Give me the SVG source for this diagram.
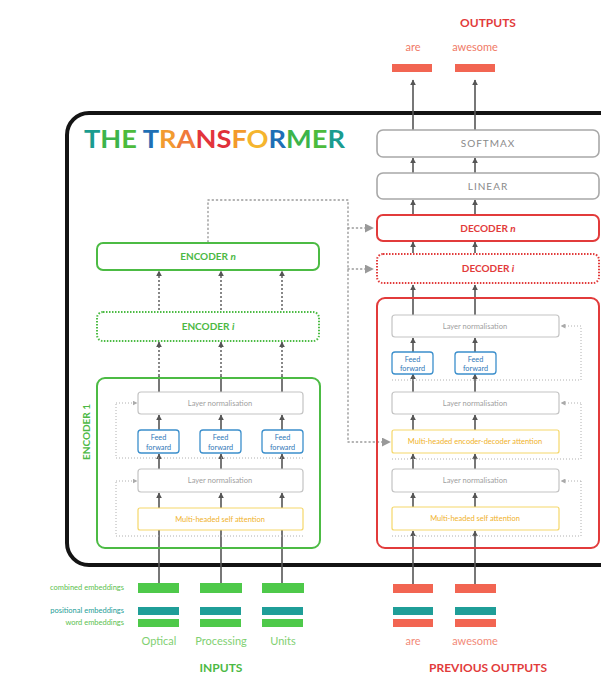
<svg xmlns="http://www.w3.org/2000/svg" width="601" height="675" viewBox="0 0 601 675">
<defs>
<style>
text{font-family:Lato,"Open Sans","Liberation Sans",sans-serif}
.frame{fill:none;stroke:#141414;stroke-width:4}
.gbox{fill:#fff;stroke:#4cbb44;stroke-width:2}
.gdot{fill:#fff;stroke:#4cbb44;stroke-width:2;stroke-dasharray:1.5 1.5}
.rbox{fill:#fff;stroke:#e23b3b;stroke-width:2}
.rdot{fill:#fff;stroke:#e23b3b;stroke-width:2;stroke-dasharray:1.5 1.5}
.grey{fill:#fff;stroke:#a8a8a8;stroke-width:1.6}
.ln{fill:#fff;stroke:#c4c4c4;stroke-width:1.2}
.ff{fill:#fff;stroke:#3b8fcc;stroke-width:1.3}
.att{fill:#fff;stroke:#f5d76a;stroke-width:1.2}
.arr{stroke:#555;stroke-width:1.6;fill:none}
.darr{stroke:#555;stroke-width:1.4;stroke-dasharray:2 2;fill:none}
.dot{stroke:#9a9a9a;stroke-width:1.4;stroke-dasharray:1.2 3;stroke-linecap:round;fill:none}
.dots{stroke:#b0b0b0;stroke-width:1;stroke-dasharray:1 2;fill:none}
.tln{font-size:7.5px;fill:#a0a0a0;text-anchor:middle}
.tff{font-size:7.3px;fill:#2f78b8;text-anchor:middle}
.tat{font-size:7.5px;fill:#f0b22a;text-anchor:middle}
.tg{font-size:10px;font-weight:bold;fill:#4cb944;text-anchor:middle}
.tr{font-size:10px;font-weight:bold;fill:#e23b3b;text-anchor:middle}
.tgy{font-size:10px;fill:#8a8a8a;text-anchor:middle;letter-spacing:1px}
.emb{font-size:7.5px;text-anchor:end}
.word{font-size:11px;text-anchor:middle}
.gem{fill:#4ec94a}
.tem{fill:#1f9e98}
.sem{fill:#f26552}
</style>
<marker id="ah" viewBox="0 0 10 10" refX="9" refY="5" markerWidth="6" markerHeight="6" markerUnits="userSpaceOnUse" orient="auto"><path d="M0,0L10,5L0,10z" fill="#555"/></marker>
<marker id="gh" viewBox="0 0 10 10" refX="9" refY="5" markerWidth="9" markerHeight="9" markerUnits="userSpaceOnUse" orient="auto"><path d="M0,0L10,5L0,10z" fill="#999"/></marker>
<marker id="sh" viewBox="0 0 10 10" refX="9" refY="5" markerWidth="5" markerHeight="5" markerUnits="userSpaceOnUse" orient="auto"><path d="M0,0L10,5L0,10z" fill="#aaa"/></marker>
</defs>
<rect width="601" height="675" fill="#fff"/>

<rect class="frame" x="67" y="113" width="600" height="452" rx="22"/>

<text x="84" y="148" font-size="25" font-weight="bold" textLength="261" lengthAdjust="spacingAndGlyphs"><tspan fill="#1a9c8f">T</tspan><tspan fill="#3cb44b">H</tspan><tspan fill="#4cbb3c">E</tspan><tspan> </tspan><tspan fill="#1e6fb5">T</tspan><tspan fill="#f29b30">R</tspan><tspan fill="#f07a3a">A</tspan><tspan fill="#e3343c">N</tspan><tspan fill="#e0303a">S</tspan><tspan fill="#f39a2b">F</tspan><tspan fill="#f5b52e">O</tspan><tspan fill="#1e6fb5">R</tspan><tspan fill="#3cb44b">M</tspan><tspan fill="#4cbb3c">E</tspan><tspan fill="#1a9c8f">R</tspan></text>

<g id="connectors">
<g>
<line class="arr" x1="159" y1="583" x2="159" y2="510" marker-end="url(#ah)"/>
<line class="arr" x1="221" y1="583" x2="221" y2="510" marker-end="url(#ah)"/>
<line class="arr" x1="282" y1="583" x2="282" y2="510" marker-end="url(#ah)"/>
<line class="arr" x1="159" y1="508" x2="159" y2="493" marker-end="url(#ah)"/>
<line class="arr" x1="221" y1="508" x2="221" y2="493" marker-end="url(#ah)"/>
<line class="arr" x1="282" y1="508" x2="282" y2="493" marker-end="url(#ah)"/>
<line class="arr" x1="159" y1="469" x2="159" y2="454" marker-end="url(#ah)"/>
<line class="arr" x1="221" y1="469" x2="221" y2="454" marker-end="url(#ah)"/>
<line class="arr" x1="282" y1="469" x2="282" y2="454" marker-end="url(#ah)"/>
<line class="arr" x1="159" y1="430" x2="159" y2="415" marker-end="url(#ah)"/>
<line class="arr" x1="221" y1="430" x2="221" y2="415" marker-end="url(#ah)"/>
<line class="arr" x1="282" y1="430" x2="282" y2="415" marker-end="url(#ah)"/>
<line class="arr" x1="159" y1="392" x2="159" y2="376"/>
<line class="arr" x1="221" y1="392" x2="221" y2="376"/>
<line class="arr" x1="282" y1="392" x2="282" y2="376"/>
<line class="darr" x1="159" y1="376" x2="159" y2="342" marker-end="url(#ah)"/>
<line class="darr" x1="221" y1="376" x2="221" y2="342" marker-end="url(#ah)"/>
<line class="darr" x1="282" y1="376" x2="282" y2="342" marker-end="url(#ah)"/>
<line class="darr" x1="159" y1="310" x2="159" y2="271" marker-end="url(#ah)"/>
<line class="darr" x1="221" y1="310" x2="221" y2="271" marker-end="url(#ah)"/>
<line class="darr" x1="282" y1="310" x2="282" y2="271" marker-end="url(#ah)"/>
</g>
<g>
<line class="arr" x1="413" y1="584" x2="413" y2="531" marker-end="url(#ah)"/>
<line class="arr" x1="475" y1="584" x2="475" y2="531" marker-end="url(#ah)"/>
<line class="arr" x1="413" y1="507" x2="413" y2="493" marker-end="url(#ah)"/>
<line class="arr" x1="475" y1="507" x2="475" y2="493" marker-end="url(#ah)"/>
<line class="arr" x1="413" y1="469" x2="413" y2="454" marker-end="url(#ah)"/>
<line class="arr" x1="475" y1="469" x2="475" y2="454" marker-end="url(#ah)"/>
<line class="arr" x1="413" y1="430" x2="413" y2="415" marker-end="url(#ah)"/>
<line class="arr" x1="475" y1="430" x2="475" y2="415" marker-end="url(#ah)"/>
<line class="arr" x1="413" y1="392" x2="413" y2="374" marker-end="url(#ah)"/>
<line class="arr" x1="475" y1="392" x2="475" y2="374" marker-end="url(#ah)"/>
<line class="arr" x1="413" y1="352" x2="413" y2="338" marker-end="url(#ah)"/>
<line class="arr" x1="475" y1="352" x2="475" y2="338" marker-end="url(#ah)"/>
<line class="arr" x1="413" y1="315" x2="413" y2="285" marker-end="url(#ah)"/>
<line class="arr" x1="475" y1="315" x2="475" y2="285" marker-end="url(#ah)"/>
<line class="arr" x1="413" y1="253" x2="413" y2="242" marker-end="url(#ah)"/>
<line class="arr" x1="475" y1="253" x2="475" y2="242" marker-end="url(#ah)"/>
<line class="arr" x1="413" y1="215" x2="413" y2="200" marker-end="url(#ah)"/>
<line class="arr" x1="475" y1="215" x2="475" y2="200" marker-end="url(#ah)"/>
<line class="arr" x1="413" y1="173" x2="413" y2="158" marker-end="url(#ah)"/>
<line class="arr" x1="475" y1="173" x2="475" y2="158" marker-end="url(#ah)"/>
<line class="arr" x1="413" y1="130" x2="413" y2="80" marker-end="url(#ah)"/>
<line class="arr" x1="475" y1="130" x2="475" y2="80" marker-end="url(#ah)"/>
</g>
<path class="dot" d="M208,242V200H348V442"/>
<line class="dot" x1="348" y1="228" x2="373" y2="228" marker-end="url(#gh)"/>
<line class="dot" x1="348" y1="269" x2="373" y2="269" marker-end="url(#gh)"/>
<line class="dot" x1="348" y1="442" x2="390" y2="442" marker-end="url(#gh)"/>
<path class="dots" d="M303,536H116V481"/>
<line class="dots" x1="116" y1="481" x2="137" y2="481" marker-end="url(#sh)"/>
<path class="dots" d="M303,458H116V403"/>
<line class="dots" x1="116" y1="403" x2="137" y2="403" marker-end="url(#sh)"/>
<path class="dots" d="M392,536H581V481"/>
<line class="dots" x1="581" y1="481" x2="561" y2="481" marker-end="url(#sh)"/>
<path class="dots" d="M392,459H581V403"/>
<line class="dots" x1="581" y1="403" x2="561" y2="403" marker-end="url(#sh)"/>
<path class="dots" d="M392,380H581V326"/>
<line class="dots" x1="581" y1="326" x2="561" y2="326" marker-end="url(#sh)"/>
</g>

<g id="encoder-n">
<rect class="gbox" x="97" y="243" width="222" height="27" rx="6"/>
<text class="tg" x="208" y="260">ENCODER <tspan font-style="italic">n</tspan></text>
</g>
<g id="encoder-i">
<rect class="gdot" x="97" y="312" width="222" height="29" rx="6"/>
<text class="tg" x="208" y="330">ENCODER <tspan font-style="italic">i</tspan></text>
</g>
<g id="encoder-1">
<rect fill="none" stroke="#4cbb44" stroke-width="2" x="97" y="378" width="223" height="170" rx="8"/>
<text class="tg" font-size="9" transform="translate(90,432) rotate(-90)">ENCODER 1</text>
</g>
<g id="enc-ln2"><rect class="ln" x="138" y="392" width="165" height="22" rx="3"/><text class="tln" x="220" y="405.5">Layer normalisation</text></g>
<g id="enc-ff1"><rect class="ff" x="138" y="430" width="41" height="23" rx="3"/><text class="tff" x="158.5" y="440">Feed</text><text class="tff" x="158.5" y="449.5">forward</text></g>
<g id="enc-ff2"><rect class="ff" x="200" y="430" width="41" height="23" rx="3"/><text class="tff" x="220.5" y="440">Feed</text><text class="tff" x="220.5" y="449.5">forward</text></g>
<g id="enc-ff3"><rect class="ff" x="262" y="430" width="41" height="23" rx="3"/><text class="tff" x="282.5" y="440">Feed</text><text class="tff" x="282.5" y="449.5">forward</text></g>
<g id="enc-ln1"><rect class="ln" x="138" y="469" width="165" height="23" rx="3"/><text class="tln" x="220" y="483">Layer normalisation</text></g>
<g id="enc-att"><rect class="att" x="138" y="508" width="165" height="22" rx="2"/><text class="tat" x="220" y="521.5">Multi-headed self attention</text></g>

<g id="softmax"><rect class="grey" x="377" y="130" width="222" height="27" rx="6"/><text class="tgy" x="488" y="147">SOFTMAX</text></g>
<g id="linear"><rect class="grey" x="377" y="173" width="222" height="26" rx="6"/><text class="tgy" x="488" y="190">LINEAR</text></g>
<g id="decoder-n"><rect class="rbox" x="377" y="215" width="222" height="26" rx="6"/><text class="tr" x="488" y="232">DECODER <tspan font-style="italic">n</tspan></text></g>
<g id="decoder-i"><rect class="rdot" x="377" y="254" width="222" height="29" rx="6"/><text class="tr" x="488" y="272">DECODER <tspan font-style="italic">i</tspan></text></g>
<g id="decoder-1"><rect fill="none" stroke="#e23b3b" stroke-width="2" x="377" y="298" width="222" height="250" rx="8"/></g>
<g id="dec-ln3"><rect class="ln" x="392" y="315" width="167" height="22" rx="3"/><text class="tln" x="475" y="328.5">Layer normalisation</text></g>
<g id="dec-ff1"><rect class="ff" x="392" y="352" width="41" height="22" rx="3"/><text class="tff" x="412.5" y="361.5">Feed</text><text class="tff" x="412.5" y="371">forward</text></g>
<g id="dec-ff2"><rect class="ff" x="455" y="352" width="41" height="22" rx="3"/><text class="tff" x="475.5" y="361.5">Feed</text><text class="tff" x="475.5" y="371">forward</text></g>
<g id="dec-ln2"><rect class="ln" x="392" y="392" width="167" height="22" rx="3"/><text class="tln" x="475" y="405.5">Layer normalisation</text></g>
<g id="dec-att2"><rect class="att" x="392" y="430" width="167" height="23" rx="2"/><text class="tat" x="475" y="444">Multi-headed encoder-decoder attention</text></g>
<g id="dec-ln1"><rect class="ln" x="392" y="469" width="167" height="23" rx="3"/><text class="tln" x="475" y="483">Layer normalisation</text></g>
<g id="dec-att1"><rect class="att" x="392" y="507" width="167" height="23" rx="2"/><text class="tat" x="475" y="521">Multi-headed self attention</text></g>

<g id="outputs">
<text x="488" y="27" font-size="12" font-weight="bold" fill="#e23b3b" text-anchor="middle">OUTPUTS</text>
<text class="word" x="413" y="51" fill="#f07a66" font-size="10">are</text>
<text class="word" x="475" y="51" fill="#f07a66" font-size="10">awesome</text>
<rect class="sem" x="392" y="64" width="40" height="8"/>
<rect class="sem" x="455" y="64" width="40" height="8"/>
</g>

<g id="inputs">
<text class="emb" x="124" y="590" fill="#5cbf4f">combined embeddings</text>
<text class="emb" x="124" y="613" fill="#1f9e98">positional embeddings</text>
<text class="emb" x="124" y="625" fill="#5cbf4f">word embeddings</text>
<rect class="gem" x="138" y="583" width="41" height="10"/>
<rect class="gem" x="200" y="583" width="42" height="10"/>
<rect class="gem" x="262" y="583" width="42" height="10"/>
<rect class="tem" x="138" y="607" width="41" height="8"/>
<rect class="tem" x="200" y="607" width="41" height="8"/>
<rect class="tem" x="262" y="607" width="41" height="8"/>
<rect class="gem" x="138" y="619" width="41" height="8"/>
<rect class="gem" x="200" y="619" width="41" height="8"/>
<rect class="gem" x="262" y="619" width="41" height="8"/>
<text class="word" x="159" y="645" fill="#7fd072">Optical</text>
<text class="word" x="221" y="645" fill="#7fd072">Processing</text>
<text class="word" x="283" y="645" fill="#7fd072">Units</text>
<text x="221" y="672" font-size="12" font-weight="bold" fill="#4cb944" text-anchor="middle">INPUTS</text>
</g>

<g id="previous-outputs">
<rect class="sem" x="393" y="584" width="40" height="9"/>
<rect class="sem" x="455" y="584" width="41" height="9"/>
<rect class="tem" x="393" y="607" width="40" height="8"/>
<rect class="tem" x="455" y="607" width="41" height="8"/>
<rect class="sem" x="393" y="619" width="40" height="8"/>
<rect class="sem" x="455" y="619" width="41" height="8"/>
<text class="word" x="413" y="645" fill="#f28a78" font-size="10">are</text>
<text class="word" x="475" y="645" fill="#f28a78" font-size="10">awesome</text>
<text x="488" y="672" font-size="12" font-weight="bold" fill="#e23b3b" text-anchor="middle">PREVIOUS OUTPUTS</text>
</g>
</svg>
